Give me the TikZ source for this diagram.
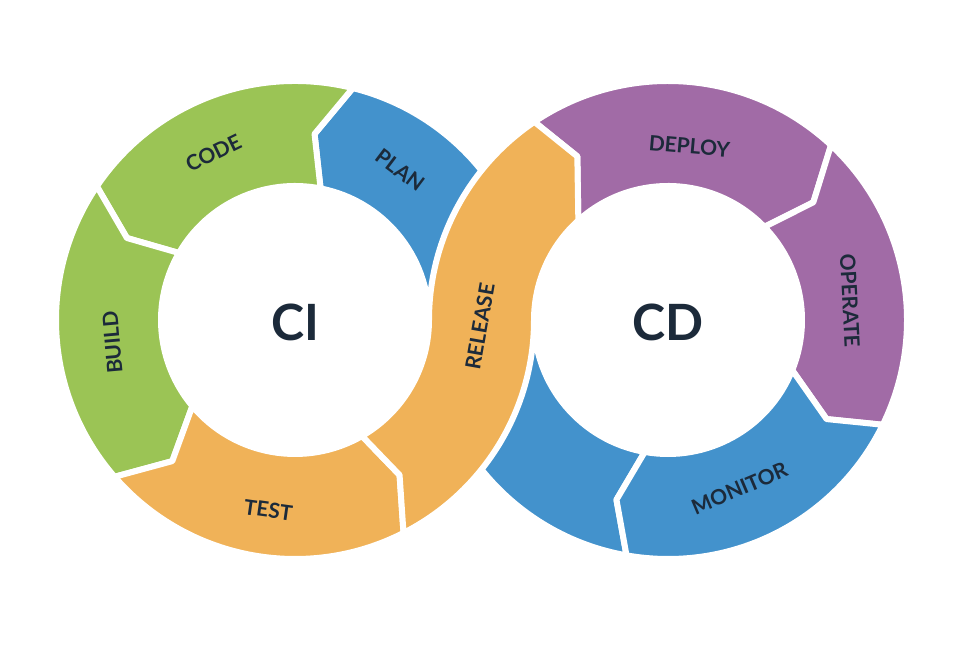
\documentclass[tikz,border=0pt]{standalone}
\usepackage{fontspec}
\setmainfont{Lato}
\definecolor{cigreen}{HTML}{9BC455}
\definecolor{ciblue}{HTML}{4392CC}
\definecolor{ciorange}{HTML}{F0B258}
\definecolor{cdpurple}{HTML}{A16BA6}
\definecolor{labelink}{HTML}{1C2A3A}

\begin{document}
\begin{tikzpicture}[x=0.5pt,y=0.5pt,
  band/.style={draw=white,line width=3pt,line join=round},
  lbl/.style={font=\fontsize{10.5}{12}\selectfont\bfseries,text=labelink},
  hub/.style={font=\fontsize{25}{30}\selectfont\bfseries,text=labelink}]
  \useasboundingbox (0,0) rectangle (980,646);
  \coordinate (L) at (295,326);
  \coordinate (R) at (668,326);

  \filldraw[band,fill=ciblue] ([shift={(76:239)}]L) arc[start angle=76,end angle=0,radius=239] arc[start angle=180,end angle=260,radius=134] -- ([shift={(254:187)}]R) -- ([shift={(260:239)}]R) arc[start angle=260,end angle=180,radius=239] arc[start angle=0,end angle=79,radius=134] -- ([shift={(84:187)}]L) -- cycle;
  \filldraw[band,fill=cigreen] ([shift={(146:239)}]L) arc[start angle=146,end angle=76,radius=239] -- ([shift={(84:187)}]L) -- ([shift={(79:134)}]L) arc[start angle=79,end angle=150,radius=134] -- ([shift={(154:187)}]L) -- cycle;
  \filldraw[band,fill=cigreen] ([shift={(221:239)}]L) arc[start angle=221,end angle=146,radius=239] -- ([shift={(154:187)}]L) -- ([shift={(150:134)}]L) arc[start angle=150,end angle=220,radius=134] -- ([shift={(229:187)}]L) -- cycle;
  \filldraw[band,fill=ciorange] ([shift={(297:239)}]L) arc[start angle=297,end angle=221,radius=239] -- ([shift={(229:187)}]L) -- ([shift={(220:134)}]L) arc[start angle=220,end angle=300,radius=134] -- ([shift={(304:187)}]L) -- cycle;
  \filldraw[band,fill=cdpurple] ([shift={(124:239)}]R) arc[start angle=124,end angle=47,radius=239] -- ([shift={(39:187)}]R) -- ([shift={(44:134)}]R) arc[start angle=44,end angle=132,radius=134] -- ([shift={(119:187)}]R) -- cycle;
  \filldraw[band,fill=cdpurple] ([shift={(47:239)}]R) arc[start angle=47,end angle=-26,radius=239] -- ([shift={(-32:187)}]R) -- ([shift={(-22:134)}]R) arc[start angle=-22,end angle=44,radius=134] -- ([shift={(39:187)}]R) -- cycle;
  \filldraw[band,fill=ciblue] ([shift={(-26:239)}]R) arc[start angle=-26,end angle=-100,radius=239] -- ([shift={(-106:187)}]R) -- ([shift={(-100:134)}]R) arc[start angle=-100,end angle=-22,radius=134] -- ([shift={(-32:187)}]R) -- cycle;
  \filldraw[band,fill=ciorange] ([shift={(297:239)}]L) arc[start angle=297,end angle=360,radius=239] arc[start angle=180,end angle=132,radius=134] -- ([shift={(119:187)}]R) -- ([shift={(124:239)}]R) arc[start angle=124,end angle=180,radius=239] arc[start angle=0,end angle=-60,radius=134] -- ([shift={(-56:187)}]L) -- cycle;

  \node[hub] (ci) at ([yshift=-1]L) {CI};
  \node[hub] (cd) at ([yshift=-1]R) {CD};
  \node[lbl,rotate=26] (code) at ([shift={(116:186)}]L) {CODE};
  \node[lbl,rotate=-37] (plan) at ([shift={(55:183)}]L) {PLAN};
  \node[lbl,rotate=95] (build) at ([shift={(187:184)}]L) {BUILD};
  \node[lbl,rotate=-8] (test) at ([shift={(262:192)}]L) {TEST};
  \node[lbl,rotate=80] (release) at ([shift={(-2:185)}]L) {RELEASE};
  \node[lbl,rotate=-5] (deploy) at ([shift={(83:175)}]R) {DEPLOY};
  \node[lbl,rotate=-87] (operate) at ([shift={(6:183)}]R) {OPERATE};
  \node[lbl,rotate=23] (monitor) at ([shift={(-67:183)}]R) {MONITOR};
\end{tikzpicture}
\end{document}
